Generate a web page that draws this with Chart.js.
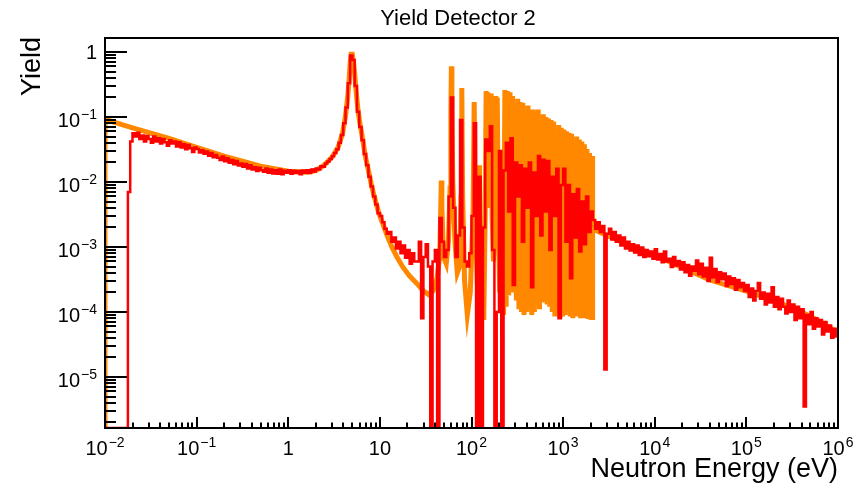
<!DOCTYPE html>
<html>
<head>
<meta charset="utf-8">
<script src="https://cdn.jsdelivr.net/npm/chart.js@4.4.0/dist/chart.umd.min.js"></script>
<style>
  html, body { margin: 0; padding: 0; background: #fff; }
  #chartBox { width: 855px; height: 488px; }
</style>
</head>
<body>
<div id="chartBox"><canvas id="yieldChart" width="855" height="488"></canvas></div>
<script>
const chartTitle = 'Yield Detector 2';
const xTitle = 'Neutron Energy (eV)';
const yTitle = 'Yield';

const xMin = 1e-2, xMax = 1e6;
const yMin = 1.64e-6, yMax = 1.64;

const xTickValues = [1e-2, 1e-1, 1, 10, 1e2, 1e3, 1e4, 1e5, 1e6];
const xTickBase = ['10', '10', '1', '10', '10', '10', '10', '10', '10'];
const xTickExp = ['\u22122', '\u22121', '', '', '2', '3', '4', '5', '6'];
const yTickValues = [1e-5, 1e-4, 1e-3, 1e-2, 1e-1, 1];
const yTickBase = ['10', '10', '10', '10', '10', '1'];
const yTickExp = ['\u22125', '\u22124', '\u22123', '\u22122', '\u22121', ''];

// measured yield (red histogram), 40 log bins per decade starting at 1e-2 eV
const binsPerDecade = 40;
const firstDecade = -2;
const yieldDecM2 = [0, 0, 0, 0, 0, 0, 0, 0, 0, 0,
  0.007, 0.042, 0.056, 0.05, 0.057, 0.046, 0.052, 0.042, 0.051, 0.046,
  0.04, 0.05, 0.042, 0.047, 0.039, 0.046, 0.041, 0.036, 0.044, 0.039,
  0.042, 0.035, 0.041, 0.034, 0.038, 0.032, 0.037, 0.033, 0.029, 0.034];
const yieldDecM1 = [0.0322, 0.0285, 0.0308, 0.0271, 0.0293, 0.0252, 0.0279, 0.0241, 0.0259, 0.0235,
  0.0218, 0.0246, 0.0209, 0.0231, 0.0197, 0.0218, 0.0188, 0.0211, 0.0179, 0.0192,
  0.0171, 0.0189, 0.0161, 0.0181, 0.0156, 0.0169, 0.0148, 0.0165, 0.0151, 0.0143,
  0.0161, 0.0138, 0.0156, 0.0135, 0.0152, 0.0134, 0.0155, 0.0132, 0.0149, 0.0139];
const yieldDec0 = [0.0152, 0.0134, 0.0149, 0.0137, 0.0147, 0.0131, 0.015, 0.0138, 0.0152, 0.0137,
  0.0155, 0.0145, 0.0161, 0.0156, 0.0175, 0.0172, 0.0192, 0.0206, 0.0226, 0.0248,
  0.0278, 0.032, 0.04, 0.053, 0.08, 0.14, 0.33, 0.88, 0.75, 0.3,
  0.12, 0.07, 0.044, 0.027, 0.018, 0.012, 0.0085, 0.006, 0.0045, 0.0033];
const yieldDec1 = [0.003, 0.0024, 0.0019, 0.0016, 0.0017, 0.0012, 0.0014, 0.00095, 0.0012, 0.0008,
  0.00105, 0.00068, 0.0009, 0.00055, 0.0008, 0.0006, 0.0006, 0.0012, 0.00008, 0.0007,
  0.0011, 0.0005, 0, 0.0006, 0.0009, 0, 0.0028, 0.0012, 0.0007, 0.0009,
  0.006, 0.2, 0.004, 0.0007, 0.0015, 0.09, 0.002, 0.0006, 0.0005, 0.0008];
const yieldDec2 = [0.003, 0.08, 0, 0.012, 0, 0.002, 0.045, 0.03, 0.072, 0.0009,
  0, 0.0001, 0.03, 0, 0.015, 0.04, 0.0035, 0.047, 0.00026, 0.02,
  0.006, 0.018, 0.0012, 0.016, 0.004, 0.02, 0.00024, 0.014, 0.003, 0.025,
  0.0015, 0.022, 0.0035, 0.021, 0.0009, 0.012, 0.003, 0.016, 0.00008, 0.009];
const yieldDec3 = [0.016, 0.0012, 0.009, 0.00033, 0.0065, 0.0014, 0.0078, 0.00085, 0.005, 0.0011,
  0.006, 0.0017, 0.0035, 0.0026, 0.0019, 0.0024, 0.0017, 0.0021, 0.000013, 0.0016,
  0.0019, 0.0013, 0.0017, 0.0012, 0.0015, 0.00105, 0.0014, 0.00095, 0.0012, 0.00088,
  0.0011, 0.00082, 0.00105, 0.00075, 0.00098, 0.0007, 0.0009, 0.00072, 0.00085, 0.00066];
const yieldDec4 = [0.00092, 0.00064, 0.00078, 0.00058, 0.00085, 0.0006, 0.00066, 0.00049, 0.0007, 0.00052,
  0.00061, 0.00045, 0.00058, 0.00041, 0.00053, 0.00036, 0.0005, 0.00043, 0.00062, 0.00038,
  0.00055, 0.00035, 0.00048, 0.0003, 0.00068, 0.00034, 0.00046, 0.00029, 0.00041, 0.00032,
  0.00039, 0.00025, 0.00035, 0.00027, 0.00033, 0.00022, 0.00031, 0.00024, 0.00028, 0.00021];
const yieldDec5 = [0.00026, 0.00017, 0.00023, 0.00015, 0.00021, 0.00028, 0.00016, 0.0002, 0.00013, 0.00019,
  0.00014, 0.00024, 0.00012, 0.00017, 0.00011, 0.00016, 0.00012, 0.000095, 0.00015, 0.0001,
  0.00013, 0.000075, 0.00012, 0.00008, 0.00011, 0.0000035, 0.00009, 0.000065, 0.0001, 0.000055,
  0.00008, 0.00006, 0.000075, 0.000045, 0.00007, 0.00005, 0.000062, 0.00004, 0.000055, 0.000042];
const measuredYield = [].concat(yieldDecM2, yieldDecM1, yieldDec0, yieldDec1, yieldDec2, yieldDec3, yieldDec4, yieldDec5);

// theory curve (orange)
const theoryEnergy = [
  0.01, 0.01, 0.02, 0.05, 0.1, 0.2, 0.5, 1.0, 1.6, 2.0,
  2.43, 3.0, 3.5, 3.9, 4.2, 4.45, 4.6, 4.75, 4.85, 5.0,
  5.15, 5.3, 5.5, 5.8, 6.1, 6.5, 6.9, 7.5, 8.2, 9.0,
  9.7, 11, 12, 13.5, 15.5, 18, 21, 25, 30, 34,
  38, 42, 45, 46.2, 46.8, 47.5, 49.5, 53, 56, 58.3,
  59.6, 60.3, 61.1, 62.5, 66, 70, 74, 77, 78.4, 80,
  84, 90, 97, 104, 107, 110, 116, 120, 122, 124,
  130, 136, 141, 144.5, 148, 151, 155, 160, 164, 168,
  174, 180, 184, 187, 191, 196, 203, 209, 215, 224,
  231.2, 238.8, 246.6, 254.7, 263.0, 271.6, 280.5, 289.7, 299.2, 309.0,
  319.2, 329.6, 340.4, 351.6, 363.1, 375.0, 387.3, 400.0, 413.0, 426.6,
  440.6, 455.0, 469.9, 485.3, 501.2, 517.6, 534.6, 552.1, 570.2, 588.8,
  608.1, 628.1, 648.6, 669.9, 691.8, 714.5, 737.9, 762.1, 787.0, 812.8,
  839.5, 867.0, 895.4, 924.7, 955.0, 986.3, 1019, 1052, 1086, 1122,
  1159, 1197, 1236, 1276, 1318, 1361, 1406, 1452, 1500, 1549,
  1600, 1652, 1706, 1762, 1820, 1879, 1941, 2004, 2070, 2095,
  2100, 3000, 5000, 1e4, 2e4, 4e4, 1e5, 2e5, 4e5, 6e5,
  1e6
];
const theoryYield = [
  0, 0.092, 0.068, 0.047, 0.034, 0.025, 0.0175, 0.0146, 0.0141, 0.015,
  0.0178, 0.024, 0.034, 0.055, 0.1, 0.2, 0.35, 0.7, 0.92, 0.92,
  0.7, 0.48, 0.25, 0.12, 0.075, 0.045, 0.026, 0.015, 0.0082, 0.005,
  0.0034, 0.0021, 0.0015, 0.001, 0.00068, 0.00048, 0.00036, 0.00028, 0.00021, 0.000185,
  0.00021, 0.00033, 0.0007, 0.004, 0.0105, 0.004, 0.0007, 0.00055, 0.0012, 0.008,
  0.12, 0.6, 0.12, 0.01, 0.0012, 0.0004, 0.0005, 0.006, 0.28, 0.006,
  0.0003, 0.00009, 0.0002, 0.003, 0.17, 0.003, 0.00025, 0.003, 0.018, 0.002,
  0.00015, 0.000075, 0.003, 0.25, 0.008, 0.24, 0.006, 0.004, 0.23, 0.003,
  0.0006, 0.004, 0.21, 0.01, 0.2, 0.003, 0.0002, 0.002, 0.00015, 0.00009,
  0.26, 0.00012, 0.25, 0.00018, 0.24, 0.00023, 0.21, 0.0002, 0.12, 0.00015,
  0.19, 0.00011, 0.17, 0.0001, 0.165, 0.00009, 0.09, 0.0001, 0.15, 0.00012,
  0.13, 0.00009, 0.13, 0.0001, 0.12, 0.00013, 0.13, 0.00011, 0.07, 0.00014,
  0.11, 0.00015, 0.1, 0.00013, 0.095, 0.00012, 0.09, 0.0001, 0.085, 0.000085,
  0.06, 0.00009, 0.075, 0.00008, 0.068, 0.000085, 0.064, 0.00009, 0.06, 0.0001,
  0.057, 0.000085, 0.055, 0.00008, 0.035, 0.000085, 0.05, 0.00009, 0.045, 0.00008,
  0.042, 0.000085, 0.038, 0.00008, 0.032, 0.000078, 0.028, 0.000076, 0.025, 0.000075,
  0.0019, 0.0015, 0.0011, 0.00075, 0.00048, 0.00031, 0.00021, 0.00015, 0.0001, 0.000075,
  0.000048
];

const fontFamily = '"Liberation Sans", Arial, Helvetica, sans-serif';

// empty bins sit on the frame bottom like ROOT draws them
const measuredPoints = measuredYield.map((v, i) => ({
    x: Math.pow(10, firstDecade + (i + 0.5) / binsPerDecade),
    y: v > 0 ? v : yMin
}));
const theoryPoints = theoryEnergy.map((e, i) => ({
    x: e,
    y: theoryYield[i] > 0 ? theoryYield[i] : yMin / 100
}));

function drawLabel(ctx, base, exp, x, y, align) {
    ctx.font = '20px ' + fontFamily;
    const wb = ctx.measureText(base).width;
    ctx.font = '14px ' + fontFamily;
    const we = exp ? ctx.measureText(exp).width + 1 : 0;
    const total = wb + we;
    const start = align === 'center' ? x - total / 2 : x - total;
    ctx.textAlign = 'left';
    ctx.font = '20px ' + fontFamily;
    ctx.fillText(base, start, y);
    if (exp) {
        ctx.font = '14px ' + fontFamily;
        ctx.fillText(exp, start + wb + 1, y - 8);
    }
}

const frameAndLabels = {
    id: 'frameAndLabels',
    beforeDraw(chart) {
        const ctx = chart.ctx;
        ctx.save();
        ctx.fillStyle = '#fff';
        ctx.fillRect(0, 0, chart.width, chart.height);
        ctx.restore();
    },
    afterDraw(chart) {
        const { ctx, chartArea: a } = chart;
        const xs = chart.scales.x, ys = chart.scales.y;
        ctx.save();
        ctx.strokeStyle = '#000';
        ctx.lineWidth = 2;
        ctx.strokeRect(a.left, a.top, a.right - a.left, a.bottom - a.top);

        ctx.beginPath();
        for (let d = -2; d <= 6; d++) {
            for (let m = 1; m <= 9; m++) {
                const v = m * Math.pow(10, d);
                if (v > xMax * 1.0001) break;
                const px = Math.round(xs.getPixelForValue(v));
                ctx.moveTo(px, a.bottom);
                ctx.lineTo(px, a.bottom - (m === 1 ? 11 : 5.5));
            }
        }
        for (let d = -6; d <= 0; d++) {
            for (let m = 1; m <= 9; m++) {
                const v = m * Math.pow(10, d);
                if (v < yMin) continue;
                if (v > yMax) break;
                const py = Math.round(ys.getPixelForValue(v));
                ctx.moveTo(a.left, py);
                ctx.lineTo(a.left + (m === 1 ? 22 : 11), py);
            }
        }
        ctx.stroke();

        ctx.fillStyle = '#000';
        ctx.textBaseline = 'alphabetic';
        xTickValues.forEach((v, i) => {
            drawLabel(ctx, xTickBase[i], xTickExp[i], xs.getPixelForValue(v), 455, 'center');
        });
        yTickValues.forEach((v, i) => {
            const py = ys.getPixelForValue(v);
            drawLabel(ctx, yTickBase[i], yTickExp[i], 97, yTickExp[i] ? py + 10 : py + 7, 'right');
        });

        ctx.font = '22px ' + fontFamily;
        ctx.textAlign = 'center';
        ctx.fillText(chartTitle, 458, 25);

        ctx.font = '27px ' + fontFamily;
        ctx.textAlign = 'right';
        ctx.fillText(xTitle, a.right, 477);

        ctx.save();
        ctx.translate(40, a.top - 1);
        ctx.rotate(-Math.PI / 2);
        ctx.textAlign = 'right';
        ctx.fillText(yTitle, 0, 0);
        ctx.restore();
        ctx.restore();
    }
};

new Chart(document.getElementById('yieldChart').getContext('2d'), {
    type: 'line',
    data: {
        datasets: [{
            label: 'Detector 2',
            data: measuredPoints,
            borderColor: '#ff0000',
            borderWidth: 2.5,
            stepped: 'middle',
            pointRadius: 0,
            fill: false,
            order: 0
        }, {
            label: 'Theory',
            data: theoryPoints,
            borderColor: '#ff8800',
            borderWidth: 5,
            tension: 0,
            pointRadius: 0,
            fill: false,
            order: 1
        }]
    },
    options: {
        responsive: false,
        animation: false,
        layout: { padding: { left: 105, right: 17, top: 38, bottom: 60 } },
        plugins: { legend: { display: false }, tooltip: { enabled: false } },
        scales: {
            x: { type: 'logarithmic', min: xMin, max: xMax, display: false },
            y: { type: 'logarithmic', min: yMin, max: yMax, display: false }
        }
    },
    plugins: [frameAndLabels]
});
</script>
</body>
</html>
